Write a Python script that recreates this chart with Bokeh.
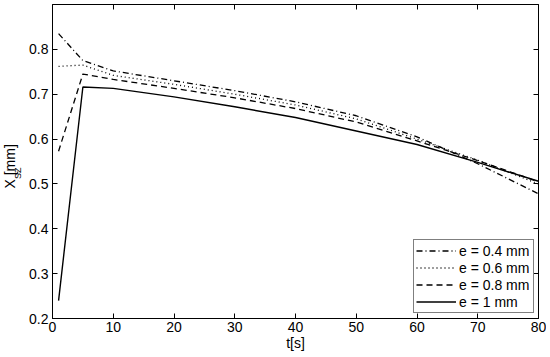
import math
from bokeh.plotting import figure
from bokeh.models import LinearAxis, FixedTicker, Range1d, Label, Legend, LegendItem
from bokeh.embed import file_html
from bokeh.resources import INLINE

t = [1, 5, 10, 20, 30, 40, 50, 60, 70, 80]
e04 = [0.835, 0.775, 0.752, 0.730, 0.708, 0.683, 0.652, 0.605, 0.545, 0.478]
e06 = [0.762, 0.765, 0.742, 0.722, 0.700, 0.676, 0.645, 0.600, 0.553, 0.500]
e08 = [0.573, 0.745, 0.733, 0.713, 0.692, 0.668, 0.638, 0.596, 0.552, 0.505]
e10 = [0.240, 0.716, 0.713, 0.694, 0.672, 0.648, 0.618, 0.588, 0.548, 0.506]
labels = ["e = 0.4 mm", "e = 0.6 mm", "e = 0.8 mm", "e = 1 mm"]
x_ticks = [0, 10, 20, 30, 40, 50, 60, 70, 80]
y_ticks = [0.2, 0.3, 0.4, 0.5, 0.6, 0.7, 0.8]

FONT = "Liberation Sans"
W, H = 546, 355

p = figure(width=W, height=H, output_backend="svg", toolbar_location=None,
           x_range=Range1d(0, 80), y_range=Range1d(0.2, 0.9),
           min_border_left=52, min_border_right=8, min_border_top=4, min_border_bottom=37,
           x_axis_label="t[s]")
p.grid.visible = False
p.outline_line_color = "black"
p.outline_line_width = 1

def style_axis(ax, ticks, show_labels=True):
    ax.ticker = FixedTicker(ticks=ticks)
    ax.major_tick_in = 5
    ax.major_tick_out = 0
    ax.minor_tick_line_color = None
    ax.axis_line_color = "black"
    ax.major_tick_line_color = "black"
    ax.major_label_text_font = FONT
    ax.major_label_text_font_size = "14px"
    ax.major_label_text_color = "black" if show_labels else None
    ax.axis_label_text_font = FONT
    ax.axis_label_text_font_size = "14px"
    ax.axis_label_text_font_style = "normal"
    ax.axis_label_text_color = "black"

style_axis(p.xaxis[0], x_ticks)
p.xaxis[0].major_label_standoff = 3
p.xaxis[0].axis_label_standoff = 0
style_axis(p.yaxis[0], y_ticks)
p.yaxis[0].major_label_standoff = 4

top = LinearAxis()
style_axis(top, x_ticks[1:-1], False)
top.major_label_text_font_size = "0px"
top.major_label_standoff = 0
p.add_layout(top, "above")
right = LinearAxis()
style_axis(right, y_ticks[1:], False)
right.major_label_text_font_size = "0px"
right.major_label_standoff = 0
p.add_layout(right, "right")

r1 = p.line(t, e04, line_color="black", line_width=1.3, line_dash="6 3 1 3")
r2 = p.line(t, e06, line_color="black", line_width=1.3, line_dash="1 3")
r3 = p.line(t, e08, line_color="black", line_width=1.3, line_dash="6 4")
r4 = p.line(t, e10, line_color="black", line_width=1.4)

legend = Legend(items=[LegendItem(label=l, renderers=[r]) for l, r in zip(labels, [r1, r2, r3, r4])],
                location=(361, 5))
legend.margin = 0
legend.padding = 2
legend.spacing = 0
legend.glyph_width = 40
legend.glyph_height = 17
legend.label_height = 17
legend.label_width = 72
legend.label_standoff = 3
legend.label_text_font = FONT
legend.label_text_font_size = "14px"
legend.label_text_color = "black"
legend.border_line_color = "black"
legend.border_line_width = 1
legend.background_fill_alpha = 1
p.add_layout(legend)

# y axis label with subscript, built from real text pieces placed in the left side panel
y0 = 318 - 188
lab_main = Label(x=9, y=y0, x_units="screen", y_units="screen", text="X     [mm]",
                 angle=math.pi / 2, text_font=FONT, text_font_size="14px",
                 text_color="black", text_align="left", text_baseline="middle")
lab_sub = Label(x=1, y=y0 + 9.5, x_units="screen", y_units="screen", text="SZ",
                angle=math.pi / 2, text_font=FONT, text_font_size="9px",
                text_color="black", text_align="left", text_baseline="middle")
p.add_layout(lab_sub, "left")
p.add_layout(lab_main, "left")

open("out.html", "w").write(file_html(p, INLINE))
